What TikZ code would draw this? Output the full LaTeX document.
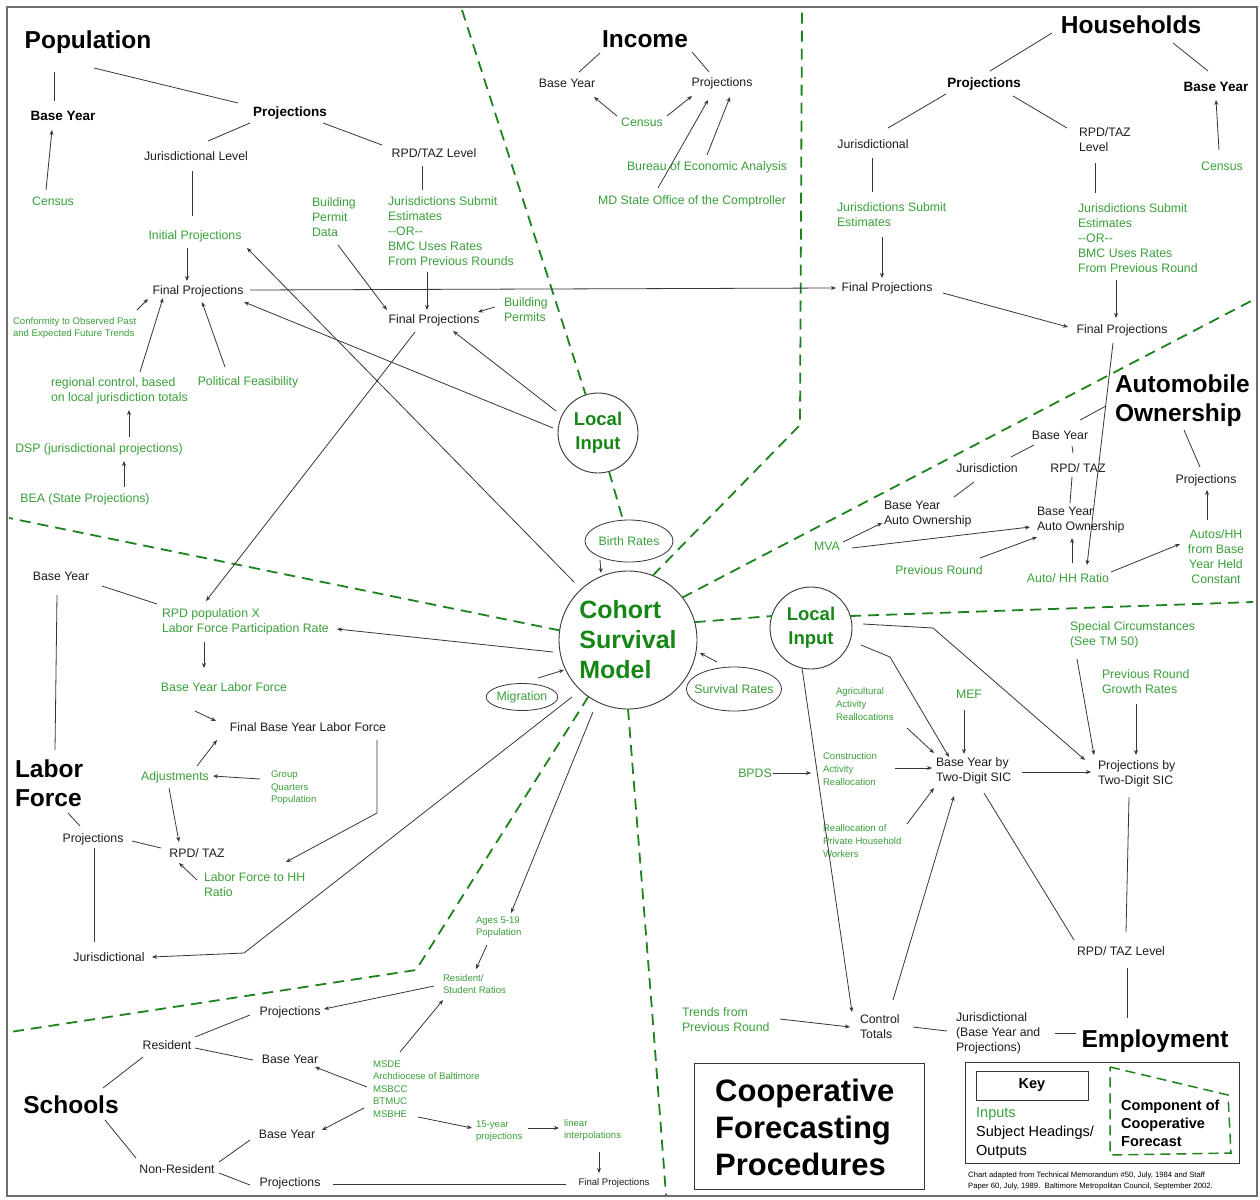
\documentclass[tikz,border=0pt]{standalone}
\usepackage{fontspec}
\setmainfont{Liberation Sans}
\usetikzlibrary{shapes.geometric,arrows.meta,calc}
\definecolor{tgreen}{RGB}{58,160,58}
\definecolor{dgreen}{RGB}{22,135,22}
\definecolor{sgreen}{RGB}{30,130,30}
\definecolor{tblack}{RGB}{30,30,30}
\definecolor{lgray}{RGB}{55,55,55}
\definecolor{fgray}{RGB}{110,110,110}
\tikzset{
 txt/.style={inner sep=0pt, outer sep=0pt, text=tblack, font=\fontsize{12.3}{15}\selectfont},
 gtxt/.style={txt, text=tgreen},
 stxt/.style={inner sep=0pt, outer sep=0pt, text=tblack, font=\fontsize{9.6}{12.6}\selectfont},
 sgtxt/.style={stxt, text=tgreen},
 ttl/.style={inner sep=0pt, outer sep=0pt, text=black, font=\fontsize{24.5}{29}\selectfont\bfseries},
 hd/.style={inner sep=0pt, outer sep=0pt, text=black, font=\fontsize{13.5}{16}\selectfont\bfseries},
 ml/.style={align=left, anchor=west},
 ln/.style={draw=lgray, line width=0.8pt},
 ar/.style={ln, -{Stealth[length=5pt,width=4pt]}},
 sep/.style={draw=sgreen, line width=1.8pt, dash pattern=on 11pt off 7pt},
 rnd/.style={circle, draw=lgray, line width=0.9pt, inner sep=0pt, outer sep=0pt, text=dgreen, align=center},
 ell/.style={ellipse, draw=lgray, line width=0.8pt, inner sep=0pt, outer sep=0pt, text=tgreen, font=\fontsize{12.3}{15}\selectfont},
}
\begin{document}
\begin{tikzpicture}[x=1pt,y=-1pt]
\fill[white] (0,0) rectangle (1260,1199);
\useasboundingbox (0,0) rectangle (1260,1199);
\draw[fgray, line width=1.2pt] (7,7) rectangle (1257,1196);

% ---------- Population ----------
\node[ttl] (poptitle) at (88,42) {Population};
\node[hd] (popby) at (63,116) {Base Year};
\node[hd] (poppr) at (290,113) {Projections};
\node[gtxt] (popcen) at (53,201) {Census};
\node[txt] (popjl) at (196,156) {Jurisdictional Level};
\node[txt] (poprl) at (434,153) {RPD/TAZ Level};
\node[gtxt,ml] (popjs) at (388,231) {Jurisdictions Submit\\Estimates\\-{}-OR-{}-\\BMC Uses Rates\\From Previous Rounds};
\node[gtxt,ml] (popbp) at (312,217) {Building\\Permit\\Data};
\node[gtxt] (popip) at (195,236) {Initial Projections};
\node[txt] (popfp1) at (198,291) {Final Projections};
\node[txt] (popfp2) at (434,320) {Final Projections};
\node[sgtxt,ml] (popconf) at (13,328) {Conformity to Observed Past\\and Expected Future Trends};
\node[gtxt,ml] (popreg) at (51,391) {regional control, based\\on local jurisdiction totals};
\node[gtxt] (poppol) at (248,382) {Political Feasibility};
\node[gtxt] (popdsp) at (99,449) {DSP (jurisdictional projections)};
\node[gtxt] (popbea) at (85,499) {BEA (State Projections)};
\node[gtxt,ml] (popbpm) at (504,310) {Building\\Permits};
\node[rnd, minimum size=80pt, font=\fontsize{18.5}{24}\selectfont\bfseries] (loc1) at (598,433) {Local\\Input};

% ---------- Income ----------
\node[ttl] (inctitle) at (645,39) {Income};
\node[txt] (incby) at (567,83) {Base Year};
\node[txt] (incpr) at (722,83) {Projections};
\node[gtxt] (inccen) at (642,122) {Census};
\node[gtxt] (incbea) at (707,167) {Bureau of Economic Analysis};
\node[gtxt] (incmd) at (692,201) {MD State Office of the Comptroller};

% ---------- Households ----------
\node[ttl] (hhtitle) at (1131,25) {Households};
\node[hd] (hhpr) at (984,84) {Projections};
\node[hd] (hhby) at (1216,87) {Base Year};
\node[gtxt] (hhcen) at (1222,166) {Census};
\node[txt] (hhjur) at (873,144) {Jurisdictional};
\node[txt,ml] (hhrl) at (1079,140) {RPD/TAZ\\Level};
\node[gtxt,ml] (hhjs) at (837,215) {Jurisdictions Submit\\Estimates};
\node[gtxt,ml] (hhrs) at (1078,238) {Jurisdictions Submit\\Estimates\\-{}-OR-{}-\\BMC Uses Rates\\From Previous Round};
\node[txt] (hhfp1) at (887,288) {Final Projections};
\node[txt] (hhfp2) at (1122,330) {Final Projections};

% ---------- Automobile ----------
\node[ttl,ml] (auttitle) at (1115,401) {Automobile\\Ownership};
\node[txt] (autby) at (1060,435) {Base Year};
\node[txt] (autjur) at (987,468) {Jurisdiction};
\node[txt] (autrpd) at (1078,468) {RPD/ TAZ};
\node[txt] (autpr) at (1206,480) {Projections};
\node[txt,ml] (autbyao1) at (884,514) {Base Year\\Auto Ownership};
\node[txt,ml] (autbyao2) at (1037,520) {Base Year\\Auto Ownership};
\node[gtxt] (autmva) at (827,546) {MVA};
\node[gtxt] (autprev) at (939,570) {Previous Round};
\node[gtxt] (autratio) at (1068,578) {Auto/ HH Ratio};
\node[gtxt, align=center] (autconst) at (1216,557) {Autos/HH\\from Base\\Year Held\\Constant};

% ---------- Cohort ----------
\node[rnd, minimum size=138pt, font=\fontsize{25}{30}\selectfont\bfseries, align=left] (coh) at (628,640) {Cohort\\Survival\\Model};
\node[ell, minimum width=88pt, minimum height=42pt] (birth) at (629,541) {Birth Rates};
\node[ell, minimum width=70pt, minimum height=27pt] (migr) at (522,697) {Migration};
\node[ell, minimum width=94pt, minimum height=44pt, inner xsep=-6pt] (surv) at (734,689) {Survival Rates};

% ---------- Labor force ----------
\node[ttl,ml] (lftitle) at (15,783) {Labor\\Force};
\node[txt] (lfby) at (61,576) {Base Year};
\node[gtxt,ml] (lfrpd) at (162,622) {RPD population X\\Labor Force Participation Rate};
\node[gtxt] (lfbylf) at (224,687) {Base Year Labor Force};
\node[txt] (lffbylf) at (308,727) {Final Base Year Labor Force};
\node[gtxt] (lfadj) at (175,777) {Adjustments};
\node[sgtxt,ml] (lfgq) at (271,788) {Group\\Quarters\\Population};
\node[txt] (lfpr) at (93,839) {Projections};
\node[txt] (lfrt) at (197,853) {RPD/ TAZ};
\node[gtxt,ml] (lfhh) at (204,885) {Labor Force to HH\\Ratio};
\node[txt] (lfjur) at (109,957) {Jurisdictional};

% ---------- Schools ----------
\node[sgtxt,ml] (ages) at (476,927) {Ages 5-19\\Population};
\node[sgtxt,ml] (resst) at (443,984) {Resident/\\Student Ratios};
\node[ttl] (schtitle) at (71,1105) {Schools};
\node[txt] (schres) at (167,1045) {Resident};
\node[txt] (schpr1) at (290,1012) {Projections};
\node[txt] (schby1) at (290,1059) {Base Year};
\node[sgtxt,ml] (schmsde) at (373,1089) {MSDE\\Archdiocese of Baltimore\\MSBCC\\BTMUC\\MSBHE};
\node[txt] (schby2) at (287,1134) {Base Year};
\node[txt] (schnr) at (177,1169) {Non-Resident};
\node[txt] (schpr2) at (290,1183) {Projections};
\node[sgtxt,ml] (sch15) at (476,1131) {15-year\\projections};
\node[sgtxt,ml] (schlin) at (564,1130) {linear\\interpolations};
\node[stxt] (schfp) at (614,1183) {Final Projections};

% ---------- Employment ----------
\node[rnd, minimum size=82pt, font=\fontsize{18.5}{24}\selectfont\bfseries] (loc2) at (811,628) {Local\\Input};
\node[gtxt,ml] (empsc) at (1070,635) {Special Circumstances\\(See TM 50)};
\node[gtxt,ml] (emppr) at (1102,682) {Previous Round\\Growth Rates};
\node[sgtxt,ml] (empag) at (836,704) {Agricultural\\Activity\\Reallocations};
\node[gtxt] (empmef) at (969,694) {MEF};
\node[sgtxt,ml] (empcon) at (823,769) {Construction\\Activity\\Reallocation};
\node[gtxt] (empbpds) at (755,773) {BPDS};
\node[sgtxt,ml] (emprea) at (823,841) {Reallocation of\\Private Household\\Workers};
\node[txt,ml] (empby) at (936,771) {Base Year by\\Two-Digit SIC};
\node[txt,ml] (empps) at (1098,774) {Projections by\\Two-Digit SIC};
\node[txt] (emprpd) at (1121,951) {RPD/ TAZ Level};
\node[ttl] (emptitle) at (1155,1041) {Employment};
\node[txt,ml] (empjur) at (956,1033) {Jurisdictional\\(Base Year and\\Projections)};
\node[txt,ml] (empct) at (860,1027) {Control\\Totals};
\node[gtxt,ml] (emptr) at (682,1020) {Trends from\\Previous Round};

% ---------- Boxes ----------
\node[draw=lgray, line width=1pt, minimum width=230pt, minimum height=126pt, inner sep=0pt] (coopbox) at (809,1126) {};
\node[inner sep=0pt, align=left, anchor=west, font=\fontsize{31}{37}\selectfont\bfseries] (cooptxt) at (715,1127) {Cooperative\\Forecasting\\Procedures};
\node[draw=lgray, line width=1pt, minimum width=274pt, minimum height=101pt, inner sep=0pt] (keybox) at (1102,1112.5) {};
\node[draw=lgray, line width=1pt, minimum width=112pt, minimum height=29pt, inner sep=0pt, font=\fontsize{14.5}{17}\selectfont\bfseries] (keylbl) at (1032,1085.5) {Key};
\node[inner sep=0pt, anchor=west, text=tgreen, font=\fontsize{14.5}{18}\selectfont] (keyin) at (976,1114) {Inputs};
\node[inner sep=0pt, anchor=west, align=left, font=\fontsize{14.5}{18.5}\selectfont] (keysub) at (976,1142) {Subject Headings/\\Outputs};
\draw[sep, line width=1.5pt, dash pattern=on 10pt off 6pt] (1110,1067) -- (1228,1095) -- (1231,1153) -- (1110,1155) -- cycle;
\node[inner sep=0pt, anchor=west, align=left, font=\fontsize{14.5}{18}\selectfont\bfseries] (keycomp) at (1121,1123) {Component of\\Cooperative\\Forecast};
\node[inner sep=0pt, anchor=west, align=left, font=\fontsize{7.7}{11}\selectfont] (foot) at (968,1181) {Chart adapted from Technical Memorandum \#50, July, 1984 and Staff\\Paper 60, July, 1989.\ \ Baltimore Metropolitan Council, September 2002.};

% ---------- Separators ----------
\draw[sep] (462,10) -- (loc1);
\draw[sep] (loc1) -- (birth);
\draw[sep] (coh.69) -- (800,425) -- (802,10);
\draw[sep] (coh.38) -- (1253,300);
\draw[sep] (coh.15) -- (loc2.163);
\draw[sep] (loc2.17) -- (1253,602);
\draw[sep] (coh.172) -- (9,518);
\draw[sep] (coh.235) -- (416,970) -- (10,1032);
\draw[sep] (coh.south) -- (652,1010) -- (666,1195);

% ---------- Population connectors ----------
\draw[ln] ($(poptitle)+(-34,30)$) -- ($(popby)+(-9,-15)$);
\draw[ln] ($(poptitle)+(6,26)$) -- ($(poppr)+(-52,-10)$);
\draw[ar] ($(popcen)+(-7,-11)$) -- ($(popby)+(-11,14)$);
\draw[ln] ($(poppr)+(-40,10)$) -- ($(popjl)+(12,-15)$);
\draw[ln] ($(poppr)+(33,10)$) -- ($(poprl)+(-52,-8)$);
\draw[ln] ($(popjl)+(-4,15)$) -- ($(popip)+(-3,-20)$);
\draw[ln] ($(poprl)+(-12,13)$) -- ($(popjs.west)+(34,-41)$);
\draw[ar] ($(popip)+(-8,12)$) -- ($(popfp1)+(-11,-10)$);
\draw[ar] ($(popjs.west)+(39,41)$) -- ($(popfp2)+(-7,-10)$);
\draw[ar] ($(popbp.west)+(26,28)$) -- ($(popfp2)+(-47,-10)$);
\draw[ar] ($(popbpm.west)+(-9,-3)$) -- ($(popfp2)+(44,-8)$);
\draw[ar] ($(popconf.west)+(124,-18)$) -- ($(popfp1)+(-50,8)$);
\draw[ar] ($(popreg.west)+(89,-19)$) -- ($(popfp1)+(-35,7)$);
\draw[ar] ($(poppol)+(-23,-15)$) -- ($(popfp1)+(4,11)$);
\draw[ar] ($(popdsp)+(30,-12)$) -- ($(popreg.west)+(78,19)$);
\draw[ar] ($(popbea)+(39,-12)$) -- ($(popdsp)+(25,12)$);
\draw[ar] ($(popfp1)+(52,-1)$) -- ($(hhfp1)+(-51,0)$);
\draw[ar] ($(loc1)+(-42,-22)$) -- ($(popfp2)+(19,11)$);
\draw[ar] ($(loc1)+(-45,-5)$) -- ($(popfp1)+(46,11)$);
\draw[ar] ($(coh)+(-54,-58)$) -- ($(popip)+(52,12)$);
\draw[ar] ($(popfp2)+(-19,12)$) -- ($(lfrpd.west)+(44,-21)$);

% ---------- Income connectors ----------
\draw[ln] ($(inctitle)+(-45,14)$) -- ($(incby)+(12,-11)$);
\draw[ln] ($(inctitle)+(47,13)$) -- ($(incpr)+(-13,-11)$);
\draw[ar] ($(inccen)+(-25,-6)$) -- ($(incby)+(27,14)$);
\draw[ar] ($(inccen)+(25,-6)$) -- ($(incpr)+(-30,13)$);
\draw[ar] ($(incbea)+(0,-12)$) -- ($(incpr)+(8,14)$);
\draw[ar] ($(incmd)+(-34,-13)$) -- ($(incpr)+(-14,17)$);

% ---------- Households connectors ----------
\draw[ln] ($(hhtitle)+(-79,8)$) -- ($(hhpr)+(6,-13)$);
\draw[ln] ($(hhtitle)+(42,18)$) -- ($(hhby)+(-8,-16)$);
\draw[ar] ($(hhcen)+(-3,-16)$) -- ($(hhby)+(0,13)$);
\draw[ln] ($(hhpr)+(-38,10)$) -- ($(hhjur)+(15,-16)$);
\draw[ln] ($(hhpr)+(29,12)$) -- ($(hhrl.west)+(-12,-12)$);
\draw[ln] ($(hhjur)+(-1,14)$) -- ($(hhjs.west)+(35,-23)$);
\draw[ar] ($(hhjs.west)+(45,22)$) -- ($(hhfp1)+(-5,-10)$);
\draw[ln] ($(hhrl.west)+(16,23)$) -- ($(hhrs.west)+(17,-45)$);
\draw[ar] ($(hhrs.west)+(38,42)$) -- ($(hhfp2)+(-6,-12)$);
\draw[ar] ($(hhfp1)+(56,5)$) -- ($(hhfp2)+(-54,-3)$);
\draw[ar] ($(hhfp2)+(-9,13)$) -- ($(autratio)+(19,-13)$);

% ---------- Automobile connectors ----------
\draw[ln] ($(autby)+(20,-15)$) -- ($(auttitle.west)+(-9,5)$);
\draw[ln] ($(auttitle.west)+(69,29)$) -- ($(autpr)+(-6,-13)$);
\draw[ln] ($(autby)+(-26,10)$) -- ($(autjur)+(24,-11)$);
\draw[ln] ($(autby)+(12,11)$) -- ($(autrpd)+(-5,-15)$);
\draw[ln] ($(autrpd)+(-6,9)$) -- ($(autbyao2.west)+(33,-17)$);
\draw[ln] ($(autjur)+(-13,14)$) -- ($(autbyao1.west)+(70,-17)$);
\draw[ar] ($(autmva)+(16,-4)$) -- ($(autbyao1.west)+(-2,9)$);
\draw[ar] ($(autmva)+(25,2)$) -- ($(autbyao2.west)+(-7,7)$);
\draw[ar] ($(autprev)+(41,-12)$) -- ($(autbyao2.west)+(0,17)$);
\draw[ar] ($(autratio)+(4,-15)$) -- ($(autbyao2.west)+(35,18)$);
\draw[ar] ($(autratio)+(43,-6)$) -- ($(autconst)+(-36,-13)$);
\draw[ar] ($(autconst)+(-9,-37)$) -- ($(autpr)+(1,10)$);

% ---------- Cohort connectors ----------
\draw[ar] ($(birth)+(-29,19)$) -- ($(coh)+(-27,-67)$);
\draw[ar] ($(migr)+(16,-19)$) -- ($(coh)+(-64,30)$);
\draw[ar] ($(surv)+(-17,-27)$) -- ($(coh)+(72,13)$);
\draw[ar] ($(coh)+(-75,12)$) -- ($(lfrpd.west)+(175,7)$);
\draw[ar] ($(coh)+(-56,57)$) -- (244,953) -- ($(lfjur)+(43,0)$);
\draw[ar] ($(coh)+(-35,72)$) -- ($(ages.west)+(35,-14)$);

% ---------- Labor force connectors ----------
\draw[ln] ($(lfby)+(41,10)$) -- ($(lfrpd.west)+(-5,-18)$);
\draw[ln] ($(lfby)+(-4,19)$) -- ($(lftitle.west)+(40,-33)$);
\draw[ar] ($(lfrpd.west)+(42,20)$) -- ($(lfbylf)+(-20,-19)$);
\draw[ar] ($(lfbylf)+(-29,24)$) -- ($(lffbylf)+(-92,-6)$);
\draw[ar] ($(lfadj)+(22,-11)$) -- ($(lffbylf)+(-91,13)$);
\draw[ar] ($(lfgq.west)+(-11,-9)$) -- ($(lfadj)+(38,-1)$);
\draw[ar] ($(lfadj)+(-6,11)$) -- ($(lfrt)+(-18,-11)$);
\draw[ln] ($(lftitle.west)+(53,30)$) -- ($(lfpr)+(-13,-13)$);
\draw[ln] ($(lfpr)+(39,2)$) -- ($(lfrt)+(-36,-5)$);
\draw[ar] ($(lfhh.west)+(-7,-5)$) -- ($(lfrt)+(-18,10)$);
\draw[ar] ($(lffbylf)+(69,13)$) -- (377,813) -- ($(lfhh.west)+(82,-23)$);
\draw[ln] ($(lfpr)+(1,9)$) -- ($(lfjur)+(-15,-15)$);

% ---------- Schools connectors ----------
\draw[ar] ($(ages.west)+(11,18)$) -- ($(resst.west)+(33,-15)$);
\draw[ar] ($(resst.west)+(-9,2)$) -- ($(schpr1)+(34,-3)$);
\draw[ln] ($(schtitle)+(32,-17)$) -- ($(schres)+(-24,12)$);
\draw[ln] ($(schres)+(28,-8)$) -- ($(schpr1)+(-40,3)$);
\draw[ln] ($(schres)+(28,3)$) -- ($(schby1)+(-37,1)$);
\draw[ar] ($(schmsde.west)+(-6,-2)$) -- ($(schby1)+(25,8)$);
\draw[ar] ($(schmsde.west)+(27,-37)$) -- ($(resst.west)+(0,16)$);
\draw[ar] ($(schmsde.west)+(-9,19)$) -- ($(schby2)+(35,-4)$);
\draw[ar] ($(schmsde.west)+(45,28)$) -- ($(sch15.west)+(-4,-3)$);
\draw[ar] ($(sch15.west)+(52,-3)$) -- ($(schlin.west)+(-5,-2)$);
\draw[ar] ($(schlin.west)+(35,22)$) -- ($(schfp)+(-15,-10)$);
\draw[ln] ($(schtitle)+(34,15)$) -- ($(schnr)+(-41,-11)$);
\draw[ln] ($(schnr)+(42,-7)$) -- ($(schby2)+(-37,6)$);
\draw[ln] ($(schnr)+(42,4)$) -- ($(schpr2)+(-40,2)$);
\draw[ln] ($(schpr2)+(43,1)$) -- ($(schfp)+(-48,1)$);

% ---------- Employment connectors ----------
\draw[ar] ($(empbpds)+(18,0)$) -- ($(empcon.west)+(-12,4)$);
\draw[ar] ($(empag.west)+(71,24)$) -- ($(empby.west)+(-2,-18)$);
\draw[ar] ($(empmef)+(-5,16)$) -- ($(empby.west)+(28,-17)$);
\draw[ar] ($(empcon.west)+(72,-1)$) -- ($(empby.west)+(-4,-3)$);
\draw[ar] ($(emprea.west)+(84,-17)$) -- ($(empby.west)+(-2,17)$);
\draw[ar] ($(loc2)+(50,17)$) -- (890,657) -- ($(empby.west)+(13,-14)$);
\draw[ar] ($(loc2)+(52,-4)$) -- (933,628) -- ($(empps.west)+(-13,-14)$);
\draw[ar] ($(empsc.west)+(7,24)$) -- ($(empps.west)+(-4,-19)$);
\draw[ar] ($(emppr.west)+(34,22)$) -- ($(empps.west)+(38,-19)$);
\draw[ar] ($(empby.west)+(86,1)$) -- ($(empps.west)+(-7,-2)$);
\draw[ln] ($(empby.west)+(48,22)$) -- ($(emprpd)+(-47,-11)$);
\draw[ln] ($(empps.west)+(31,23)$) -- ($(emprpd)+(5,-19)$);
\draw[ln] ($(emprpd)+(6,17)$) -- ($(emptitle)+(-28,-23)$);
\draw[ln] ($(empjur.west)+(99,0)$) -- ($(emptitle)+(-79,-8)$);
\draw[ln] ($(empct.west)+(53,0)$) -- ($(empjur.west)+(-9,-2)$);
\draw[ar] ($(emptr.west)+(98,-1)$) -- ($(empct.west)+(-10,0)$);
\draw[ar] ($(loc2)+(-9,40)$) -- ($(empct.west)+(-8,-15)$);
\draw[ar] ($(empct.west)+(33,-27)$) -- ($(empby.west)+(18,25)$);
\end{tikzpicture}
\end{document}
